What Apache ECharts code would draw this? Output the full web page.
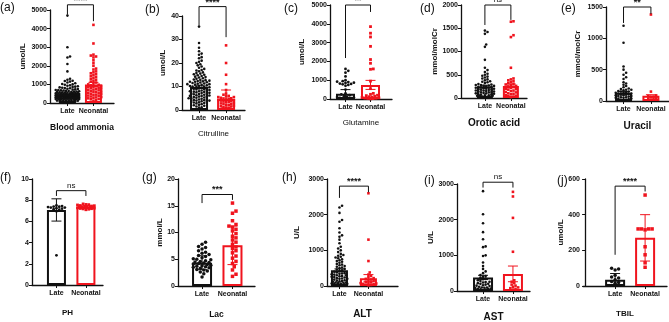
<!DOCTYPE html>
<html lang="en">
<head>
    <meta charset="UTF-8">
    <title>Late vs Neonatal</title>
    <style type="text/css">
        * { margin: 0; padding: 0; }
        html, body { width: 100%; height: 100%; background: #fff; }
        #chart-panel { width: 669px; height: 322px; }
    </style>
</head>
<body>
<div id="chart-panel"></div>
<script src="https://cdn.jsdelivr.net/npm/echarts@6.0.0/dist/echarts.min.js"></script>
<script>
    const groups = ['Late', 'Neonatal'];
    const letters = ['(a)', '(b)', '(c)', '(d)', '(e)', '(f)', '(g)', '(h)', '(i)', '(j)'];
    const titles = ['Blood ammonia', 'Citrulline', 'Glutamine', 'Orotic acid', 'Uracil', 'PH', 'Lac', 'ALT', 'AST', 'TBIL'];
    const units = ['umol/L', 'umol/L', 'umol/L', 'mmol/molCr', 'mmol/molCr', '', 'mmol/L', 'U/L', 'U/L', 'umol/L'];
    const yMax = [5000, 40, 5000, 2000, 1500, 10, 20, 3000, 3000, 600];
    const yStep = [1000, 10, 1000, 500, 500, 2, 5, 1000, 1000, 200];
    const sigText = ['****', '****', '**', 'ns', '**', 'ns', '***', '****', 'ns', '****'];

    // (a) blood ammonia
    const ammoniaLate = [4700, 3000, 2500, 2450, 2100, 1700, 1300, 1250, 1200, 1180, 1150, 1100, 1060, 1020, 1000, 980, 950, 930, 900, 880, 860, 840, 820, 800, 790, 770, 750, 730, 720, 700, 690, 680, 670, 650, 640, 630, 620, 610, 600, 590, 580, 570, 560, 550, 545, 540, 530, 520, 515, 510, 500, 495, 490, 485, 480, 470, 465, 460, 455, 450, 445, 440, 435, 430, 425, 420, 415, 410, 405, 400, 395, 390, 385, 380, 375, 370, 365, 360, 355, 350, 345, 340, 335, 330, 325, 320, 315, 310, 305, 300, 295, 290, 285, 280, 275, 270, 265, 260, 255, 250, 245, 240, 235, 230, 225, 220, 215, 210, 200, 190, 180, 170, 160, 150, 140, 130, 120, 110, 100, 90, 80, 70, 60, 50];
    const ammoniaNeo = [4200, 3200, 2600, 2550, 2500, 2450, 2300, 2150, 2000, 1850, 1800, 1700, 1650, 1600, 1550, 1500, 1450, 1400, 1350, 1300, 1250, 1200, 1150, 1100, 1050, 1000, 980, 950, 920, 900, 870, 850, 820, 800, 780, 750, 720, 700, 680, 650, 620, 600, 580, 550, 520, 500, 480, 450, 420, 400, 380, 350, 320, 300, 280, 250, 220, 200, 150, 120];
    const ammoniaMean = [430, 1000];
    const ammoniaErr = [40, 110];
    const ammoniaSig = [5280, 4750, 4400];

    // (b) citrulline
    const citLate = [35.5, 28.5, 26.5, 25, 24, 23.5, 22.5, 22, 21, 20.5, 20, 19.5, 19, 18.5, 18, 17.5, 17, 16.8, 16.5, 16, 15.7, 15.5, 15.2, 15, 14.8, 14.5, 14.2, 14, 13.8, 13.5, 13.3, 13, 12.8, 12.5, 12.3, 12, 12, 11.8, 11.5, 11.3, 11, 11, 10.8, 10.5, 10.3, 10, 10, 9.8, 9.5, 9.3, 9, 9, 8.8, 8.5, 8.3, 8, 8, 7.8, 7.5, 7.3, 7, 7, 6.8, 6.5, 6.3, 6, 6, 5.8, 5.5, 5.3, 5, 5, 4.8, 4.5, 4.3, 4, 4, 3.8, 3.5, 3.3, 3, 2.8, 2.5, 2.2, 2, 1.8, 1.5, 1.2, 1, 12.7, 11.7, 10.7, 9.7, 8.7, 7.7, 6.7, 5.7, 4.7, 3.7, 12.2, 11.2, 10.2, 9.2, 8.2, 7.2, 6.2, 5.2, 4.2, 3.2];
    const citNeo = [27.5, 20, 15, 11, 8.5, 7, 6.5, 6, 5.8, 5.5, 5.2, 5, 4.8, 4.5, 4.3, 4, 3.8, 3.5, 3.3, 3, 2.8, 2.5, 2.2, 2, 1.8, 1.5, 1.2, 1, 0.8, 4.2, 3.6, 2.6, 1.6, 5.5, 4.9];
    const citMean = [9.8, 4.7];
    const citErr = [0.5, 3.8];
    const citSig = [44, 36, 31];

    // (c) glutamine
    const glnLate = [1600, 1500, 1400, 1200, 1000, 950, 920, 900, 870, 850, 820, 800, 780, 750, 700, 500, 300, 250, 200, 150, 120, 100, 80, 60, 50, 40, 30, 20];
    const glnNeo = [3850, 3500, 3300, 2800, 2100, 1900, 1600, 1580, 950, 550, 300, 250, 200, 180, 150, 120, 100, 80, 60, 50, 40, 30, 20, 10];
    const glnMean = [280, 750];
    const glnErr = [220, 240];
    const glnSig = [5000, 2180, 4630];

    // (d) orotic acid
    const oroLate = [1450, 1420, 1380, 1150, 1100, 820, 650, 600, 560, 520, 500, 480, 460, 440, 420, 400, 380, 360, 350, 340, 320, 300, 290, 280, 270, 260, 250, 240, 230, 220, 210, 200, 190, 180, 170, 160, 150, 140, 130, 120, 110, 100, 90, 80, 70, 60, 50, 40, 30, 20, 10, 280, 240, 200, 160, 120, 80, 50, 30, 260, 220, 180, 140, 100, 60];
    const oroNeo = [1650, 1640, 1350, 1310, 650, 420, 400, 380, 360, 340, 320, 300, 290, 280, 260, 250, 240, 220, 200, 190, 180, 160, 150, 130, 120, 100, 90, 80, 60, 50, 40, 30, 20];
    const oroMean = [250, 260];
    const oroErr = [25, 40];
    const oroSig = [2000, 1570, 1680];

    // (e) uracil
    const uraLate = [1200, 930, 550, 500, 450, 420, 380, 350, 300, 280, 260, 240, 220, 200, 190, 180, 170, 160, 150, 140, 130, 120, 110, 100, 90, 80, 70, 60, 50, 40, 30, 20, 10, 180, 150, 120, 100, 80, 60, 40, 20, 130, 90, 50];
    const uraNeo = [1380, 150, 90, 80, 70, 60, 50, 40, 30, 20];
    const uraMean = [130, 85];
    const uraErr = [20, 15];
    const uraSig = [1500, 1245, 1390];

    // (f) pH
    const phLate = [7.5, 7.45, 7.4, 7.38, 7.35, 7.3, 7.3, 7.25, 7.2, 7.15, 7.1, 6.95, 2.8];
    const phNeo = [7.65, 7.6, 7.58, 7.55, 7.5, 7.48, 7.45, 7.42, 7.4, 7.38, 7.36, 7.35, 7.33, 7.3, 7.28, 7.25, 7.22, 7.2, 7.18, 7.15, 7.1];
    const phMean = [7.08, 7.35];
    const phErr = [1.05, 0.12];
    const phSig = [8.9, 8.4, 8.4];

    // (g) lactate
    const lacLate = [8.2, 7.8, 7.4, 7.2, 6.9, 6.6, 6.3, 6.1, 5.9, 5.7, 5.5, 5.3, 5.1, 5.0, 4.9, 4.7, 4.6, 4.5, 4.4, 4.3, 4.2, 4.1, 4.0, 3.9, 3.8, 3.7, 3.6, 3.5, 3.4, 3.3, 3.1, 3.0, 2.8, 2.6, 2.3, 1.7];
    const lacNeo = [15.5, 14.0, 13.6, 12.2, 11.5, 11.2, 11.0, 10.6, 10.3, 9.8, 9.3, 9.0, 8.6, 8.2, 7.8, 7.3, 7.0, 6.6, 6.2, 5.6, 5.2, 4.6, 4.2, 3.6, 3.0, 2.2, 1.8];
    const lacMean = [4.35, 7.6];
    const lacErr = [1.3, 3.6];
    const lacSig = [17.1, 15.5, 16.1];

    // (h) ALT
    const altLate = [2250, 2200, 2050, 1850, 1800, 1620, 1500, 1420, 1380, 1300, 1200, 1100, 1050, 1000, 950, 900, 870, 850, 820, 800, 780, 750, 720, 700, 680, 650, 620, 600, 580, 560, 540, 520, 500, 480, 460, 440, 420, 400, 380, 360, 340, 320, 300, 280, 260, 240, 220, 200, 180, 160, 140, 120, 100, 90, 80, 70, 60, 50, 40, 30, 20, 350, 300, 250, 200, 150, 100, 60, 330, 270, 210, 130, 70];
    const altNeo = [2600, 1300, 700, 380, 320, 280, 250, 220, 200, 180, 160, 140, 120, 100, 90, 80, 70, 60, 50, 40, 30, 20];
    const altMean = [440, 220];
    const altErr = [40, 100];
    const altSig = [2800, 2470, 2630];

    // (i) AST
    const astLate = [2800, 2150, 1900, 1650, 1450, 1250, 1230, 1000, 980, 800, 700, 620, 550, 500, 450, 420, 400, 380, 350, 330, 300, 280, 260, 240, 220, 200, 180, 160, 140, 120, 100, 90, 80, 70, 60, 50, 40, 30, 250, 200, 150, 100, 60];
    const astNeo = [2780, 2650, 2050, 1100, 300, 260, 220, 180, 150, 120, 100, 80, 60, 40];
    const astMean = [380, 480];
    const astErr = [60, 220];
    const astSig = [3050, 2900, 2900];

    // (j) TBIL
    const tbilLate = [100, 95, 90, 60, 50, 45, 35, 25, 20, 15];
    const tbilNeo = [510, 320, 320, 320, 320, 315, 220, 175, 130, 105];
    const tbilMean = [35, 270];
    const tbilErr = [35, 130];
    const tbilSig = [560, 175, 530];

    const lateSets = [ammoniaLate, citLate, glnLate, oroLate, uraLate, phLate, lacLate, altLate, astLate, tbilLate];
    const neoSets = [ammoniaNeo, citNeo, glnNeo, oroNeo, uraNeo, phNeo, lacNeo, altNeo, astNeo, tbilNeo];
    const means = [ammoniaMean, citMean, glnMean, oroMean, uraMean, phMean, lacMean, altMean, astMean, tbilMean];
    const errs = [ammoniaErr, citErr, glnErr, oroErr, uraErr, phErr, lacErr, altErr, astErr, tbilErr];
    const sigs = [ammoniaSig, citSig, glnSig, oroSig, uraSig, phSig, lacSig, altSig, astSig, tbilSig];

    // panel geometry (pixels) and styling
    const layout = [
        {left: 50, top: 10, width: 64, height: 93, xMin: 0.33, xMax: 2.79, barW: 17, dot: 2.6, spread: 12, yGap: 23, xGap: 20, tSize: 8.5, tWeight: 'bold', lx: 0, ly: 2},
        {left: 182, top: 16, width: 63, height: 94, xMin: 0.37, xMax: 2.70, barW: 18, dot: 2.6, spread: 12, yGap: 15, xGap: 20, tSize: 8, tWeight: 'normal', lx: 145, ly: 4},
        {left: 330, top: 5, width: 62, height: 94, xMin: 0.38, xMax: 2.86, barW: 19, dot: 2.8, spread: 9, yGap: 24, xGap: 20, tSize: 8, tWeight: 'normal', lx: 284, ly: 3},
        {left: 461, top: 5, width: 66, height: 93, xMin: 0.08, xMax: 2.62, barW: 16, dot: 2.6, spread: 10, yGap: 22, xGap: 20, tSize: 10, tWeight: 'bold', lx: 420, ly: 3},
        {left: 606, top: 7, width: 63, height: 94, xMin: 0.36, xMax: 2.66, barW: 17, dot: 2.6, spread: 9, yGap: 24, xGap: 20, tSize: 10, tWeight: 'bold', lx: 561, ly: 3},
        {left: 32, top: 179, width: 71, height: 106, xMin: 0.17, xMax: 2.58, barW: 19, dot: 2.8, spread: 9, yGap: 20, xGap: 24, tSize: 8, tWeight: 'bold', lx: 0, ly: 172},
        {left: 178, top: 179, width: 77, height: 107, xMin: 0.21, xMax: 2.74, barW: 20, dot: 3.5, spread: 10, yGap: 14, xGap: 24, tSize: 8.5, tWeight: 'bold', lx: 142, ly: 172},
        {left: 327, top: 179, width: 71, height: 107, xMin: 0.57, xMax: 3.02, barW: 17, dot: 2.6, spread: 9, yGap: 26, xGap: 23, tSize: 10, tWeight: 'bold', lx: 282, ly: 172},
        {left: 457, top: 184, width: 73, height: 107, xMin: 0.13, xMax: 2.57, barW: 20, dot: 2.6, spread: 10, yGap: 20, xGap: 21, tSize: 10, tWeight: 'bold', lx: 424, ly: 175},
        {left: 583, top: 179, width: 84, height: 107, xMin: -0.07, xMax: 2.73, barW: 20, dot: 3.5, spread: 8, yGap: 14, xGap: 24, tSize: 8, tWeight: 'bold', lx: 557, ly: 175}
    ];

    const colors = ['#111', '#f0141e'];
    const font = 'Arial, "Liberation Sans", sans-serif';

    // simple beeswarm: spread points sideways (in px) so they don't pile up
    function swarm(values, pxPerY, dia, maxOff) {
        const order = values.map((v, i) => i).sort((a, b) => values[a] - values[b]);
        const placed = [];
        const off = new Array(values.length).fill(0);
        order.forEach(i => {
            const y = values[i] * pxPerY;
            let best = 0, bestD = -1;
            for (let k = 0; ; k++) {
                const cand = k === 0 ? 0 : (k % 2 ? 1 : -1) * Math.ceil(k / 2) * dia * 0.5;
                if (Math.abs(cand) > maxOff) break;
                let minD = Infinity;
                for (const p of placed) {
                    if (Math.abs(p.y - y) < dia) {
                        const d = Math.hypot(p.x - cand, p.y - y);
                        if (d < minD) minD = d;
                    }
                }
                if (minD >= dia * 0.95) { best = cand; bestD = minD; break; }
                if (minD > bestD) { bestD = minD; best = cand; }
            }
            placed.push({x: best, y: y});
            off[i] = best;
        });
        return off;
    }

    const grid = [], xAxis = [], yAxis = [], series = [], graphic = [];

    layout.forEach((L, i) => {
        grid.push({left: L.left, top: L.top, width: L.width, height: L.height, containLabel: false, outerBoundsMode: 'none'});
        xAxis.push({
            type: 'value', gridIndex: i, min: L.xMin, max: L.xMax,
            name: titles[i], nameLocation: 'middle', nameGap: L.xGap,
            nameTextStyle: {fontFamily: font, fontSize: L.tSize, fontWeight: L.tWeight, color: '#111'},
            axisLine: {show: true, onZero: false, lineStyle: {color: '#111', width: 1.3}},
            axisTick: {show: true, customValues: [1, 2], length: 3, lineStyle: {color: '#111', width: 1}},
            axisLabel: {show: true, customValues: [1, 2], formatter: v => groups[Math.round(v) - 1] || '',
                margin: 5, fontFamily: font, fontSize: 7, fontWeight: 'bold', color: '#111'},
            splitLine: {show: false}
        });
        yAxis.push({
            type: 'value', gridIndex: i, min: 0, max: yMax[i], interval: yStep[i],
            name: units[i], nameLocation: 'middle', nameGap: L.yGap,
            nameTextStyle: {fontFamily: font, fontSize: 8, fontWeight: 'bold', color: '#111'},
            axisLine: {show: true, lineStyle: {color: '#111', width: 1.3}},
            axisTick: {show: true, length: 3, lineStyle: {color: '#111', width: 1}},
            axisLabel: {margin: 3, formatter: v => String(v), fontFamily: font, fontSize: 7, fontWeight: 'bold', color: '#111'},
            splitLine: {show: false}
        });

        const pxPerY = L.height / yMax[i];
        const pxPerX = L.width / (L.xMax - L.xMin);

        series.push({
            type: 'bar', xAxisIndex: i, yAxisIndex: i, barWidth: L.barW, z: 2, silent: true,
            data: means[i].map((m, g) => ({
                value: [g + 1, m],
                itemStyle: {color: 'rgba(255,255,255,0)', borderColor: colors[g], borderWidth: 2}
            }))
        });

        [lateSets[i], neoSets[i]].forEach((vals, g) => {
            const off = swarm(vals, pxPerY, L.dot, L.spread);
            series.push({
                type: 'scatter', xAxisIndex: i, yAxisIndex: i, z: 3, silent: true,
                symbol: g === 0 ? 'circle' : 'rect', symbolSize: L.dot,
                itemStyle: {color: colors[g], opacity: 1},
                data: vals.map((v, k) => [g + 1 + off[k] / pxPerX, v])
            });
        });

        series.push({
            type: 'custom', xAxisIndex: i, yAxisIndex: i, z: 4, silent: true,
            data: means[i].map((m, g) => [g + 1, m, errs[i][g]]),
            renderItem: (params, api) => {
                const x = api.value(0), m = api.value(1), e = api.value(2);
                const hi = api.coord([x, m + e]);
                const lo = api.coord([x, Math.max(0, m - e)]);
                const st = {stroke: colors[params.dataIndex], lineWidth: 1};
                const cap = 5;
                return {type: 'group', children: [
                    {type: 'line', shape: {x1: hi[0], y1: hi[1], x2: lo[0], y2: lo[1]}, style: st},
                    {type: 'line', shape: {x1: hi[0] - cap, y1: hi[1], x2: hi[0] + cap, y2: hi[1]}, style: st},
                    {type: 'line', shape: {x1: lo[0] - cap, y1: lo[1], x2: lo[0] + cap, y2: lo[1]}, style: st}
                ]};
            }
        });

        const sig = sigText[i];
        series.push({
            type: 'custom', xAxisIndex: i, yAxisIndex: i, z: 5, silent: true, clip: false,
            data: [[1, 2, sigs[i][0], sigs[i][1], sigs[i][2]]],
            renderItem: (params, api) => {
                const a = api.coord([api.value(0), api.value(3)]);
                const b = api.coord([api.value(0), api.value(2)]);
                const c = api.coord([api.value(1), api.value(2)]);
                const d = api.coord([api.value(1), api.value(4)]);
                const isNs = sig === 'ns';
                return {type: 'group', children: [
                    {type: 'polyline', shape: {points: [a, b, c, d]}, style: {stroke: '#111', lineWidth: 1, fill: null}},
                    {type: 'text', x: (b[0] + c[0]) / 2, y: b[1] - (isNs ? 1 : 0),
                        style: {text: sig, align: 'center', verticalAlign: 'bottom', fill: '#111',
                            font: (isNs ? 'normal 8px ' : 'bold 9px ') + font}}
                ]};
            }
        });

        graphic.push({
            type: 'text', left: L.lx, top: L.ly, silent: true,
            style: {text: letters[i], fill: '#111', font: '12px ' + font}
        });
    });

    const myChart = echarts.init(document.getElementById('chart-panel'), null, {renderer: 'canvas'});
    myChart.setOption({
        animation: false,
        backgroundColor: '#fff',
        grid: grid,
        xAxis: xAxis,
        yAxis: yAxis,
        series: series,
        graphic: graphic
    });
</script>
</body>
</html>
